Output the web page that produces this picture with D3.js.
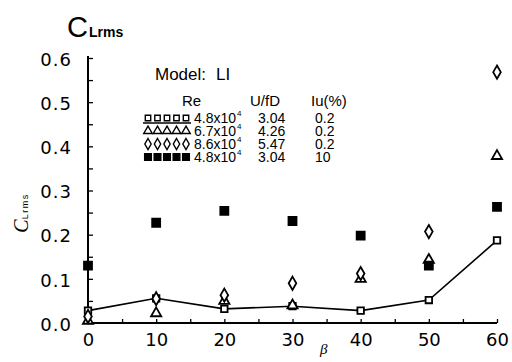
<!DOCTYPE html>
<html>
<head>
<meta charset="utf-8">
<script src="https://cdn.jsdelivr.net/npm/d3@7"></script>
<style>
  body { margin: 0; background: #fff; }
  svg { font-family: 'Liberation Sans', Arial, sans-serif; }
</style>
</head>
<body>
<svg id="canvas"></svg>
<script>
// beta angles (deg)
let betas = [0, 10, 20, 30, 40, 50, 60]

// C_Lrms per series
let reLow = [0.028, 0.056, 0.032, 0.038, 0.028, 0.052, 0.187]      // 4.8x10^4, Iu 0.2 (open squares + line)
let reMid = [0.005, 0.022, 0.050, 0.040, 0.100, 0.143, 0.378]      // 6.7x10^4 (triangles)
let reHigh = [0.015, 0.055, 0.063, 0.090, 0.112, 0.207, 0.568]     // 8.6x10^4 (diamonds)
let reTurb = [0.130, 0.227, 0.254, 0.231, 0.198, 0.130, 0.263]     // 4.8x10^4, Iu 10 (filled squares)

let yTicks = [0, 0.1, 0.2, 0.3, 0.4, 0.5, 0.6]
let xTicks = [0, 10, 20, 30, 40, 50, 60]

let legendRe = ['4.8x10', '6.7x10', '8.6x10', '4.8x10']
let legendUfd = ['3.04', '4.26', '5.47', '3.04']
let legendIu = ['0.2', '0.2', '0.2', '10']

let width = 512
let height = 362

let svg = d3.select('#canvas')
svg.attr('width', width).attr('height', height)

let xScale = d3.scaleLinear().domain([0, 60]).range([88, 497])
let yScale = d3.scaleLinear().domain([0, 0.6]).range([323, 58])

let symbols = [
    {data: reLow, type: d3.symbolSquare, size: 42, fill: '#fff'},
    {data: reMid, type: d3.symbolTriangle, size: 45, fill: '#fff'},
    {data: reHigh, type: d3.symbolDiamond, size: 50, fill: '#fff'},
    {data: reTurb, type: d3.symbolSquare, size: 64, fill: '#000'}
]

// axes
let yAxis = d3.axisLeft(yScale)
    .tickValues(d3.range(0, 0.601, 0.05))
    .tickSize(-5)
    .tickPadding(16)
    .tickFormat((d) => {
        let hit = yTicks.find(t => Math.abs(t - d) < 1e-6)
        return hit === undefined ? '' : d3.format('.1f')(hit)
    })

let xAxis = d3.axisBottom(xScale)
    .tickValues(d3.range(0, 61, 5))
    .tickSize(-4)
    .tickPadding(10)
    .tickFormat((d) => xTicks.includes(d) ? d : '')

let gy = svg.append('g')
    .attr('transform', 'translate(' + xScale(0) + ',0)')
    .call(yAxis)

let gx = svg.append('g')
    .attr('transform', 'translate(0,' + yScale(0) + ')')
    .call(xAxis)

gy.select('.domain').attr('stroke-width', 2).attr('d', 'M0,' + yScale(0) + 'V' + (yScale(0.6) - 2))
gx.select('.domain').attr('stroke-width', 2).attr('d', 'M' + xScale(0) + ',0H' + xScale(60))
svg.selectAll('.tick line').attr('stroke-width', 1.3)
svg.selectAll('.tick text')
    .attr('font-size', 18)
    .attr('font-family', 'DejaVu Sans, sans-serif')
    .attr('fill', '#000')
gy.selectAll('.tick text').attr('letter-spacing', 1).attr('dy', '0.4em')

// line through the low-Re series
let line = d3.line()
    .x((d, i) => xScale(betas[i]))
    .y((d) => yScale(d))

svg.append('path')
    .datum(reLow)
    .attr('d', line)
    .attr('fill', 'none')
    .attr('stroke', '#000')
    .attr('stroke-width', 1.6)

// points
symbols.forEach((s) => {
    svg.append('g')
        .selectAll('path')
        .data(s.data)
        .enter()
        .append('path')
        .attr('d', d3.symbol().type(s.type).size(s.size))
        .attr('transform', (d, i) => 'translate(' + xScale(betas[i]) + ',' + yScale(d) + ')')
        .attr('fill', s.fill)
        .attr('stroke', '#000')
        .attr('stroke-width', 1.8)
})

// title
let title = svg.append('text').attr('x', 67).attr('y', 37).attr('fill', '#000')
title.append('tspan').attr('font-size', 29).text('C')
title.append('tspan').attr('font-size', 14).attr('font-weight', 'bold').attr('dx', 1).text('Lrms')

// y label
let ylab = svg.append('text')
    .attr('transform', 'translate(28,213) rotate(-90)')
    .attr('text-anchor', 'middle')
    .attr('fill', '#000')
ylab.append('tspan').attr('font-size', 20).attr('font-style', 'italic').attr('font-family', 'Liberation Serif, serif').text('C')
ylab.append('tspan').attr('font-size', 9).attr('letter-spacing', 1.5).text('Lrms')

// x label
svg.append('text')
    .attr('x', 320).attr('y', 354)
    .attr('font-size', 15)
    .attr('font-style', 'italic')
    .attr('font-family', 'Liberation Serif, serif')
    .text('β')

// legend
let legend = svg.append('g').attr('font-size', 14).attr('fill', '#000')
let model = legend.append('text').attr('x', 155).attr('y', 80).attr('font-size', 17)
model.append('tspan').text('Model:')
model.append('tspan').attr('dx', 10).text('LI')
legend.append('text').attr('x', 182).attr('y', 106).attr('font-size', 15).text('Re')
legend.append('text').attr('x', 250).attr('y', 106).attr('font-size', 15).text('U/fD')
legend.append('text').attr('x', 311).attr('y', 106).attr('font-size', 15).text('Iu(%)')

let rowY = [123, 136, 149, 162]
symbols.forEach((s, r) => {
    for (let k = 0; k < 5; k++) {
        legend.append('path')
            .attr('d', d3.symbol().type(s.type).size(s.size * 0.7)())
            .attr('transform', 'translate(' + (148 + k * 9.5) + ',' + (rowY[r] - 5) + ')')
            .attr('fill', s.fill)
            .attr('stroke', '#000')
            .attr('stroke-width', 1.4)
    }
    let t = legend.append('text').attr('x', 194).attr('y', rowY[r]).text(legendRe[r])
    let w = t.node().getComputedTextLength()
    legend.append('text')
        .attr('x', 194 + w + 1).attr('y', rowY[r] - 7)
        .attr('font-size', 8)
        .text('4')
    legend.append('text').attr('x', 258).attr('y', rowY[r]).text(legendUfd[r])
    legend.append('text').attr('x', 315).attr('y', rowY[r]).text(legendIu[r])
})
legend.append('line')
    .attr('x1', 143).attr('x2', 191)
    .attr('y1', rowY[0]).attr('y2', rowY[0])
    .attr('stroke', '#000').attr('stroke-width', 1.4)
</script>
</body>
</html>
